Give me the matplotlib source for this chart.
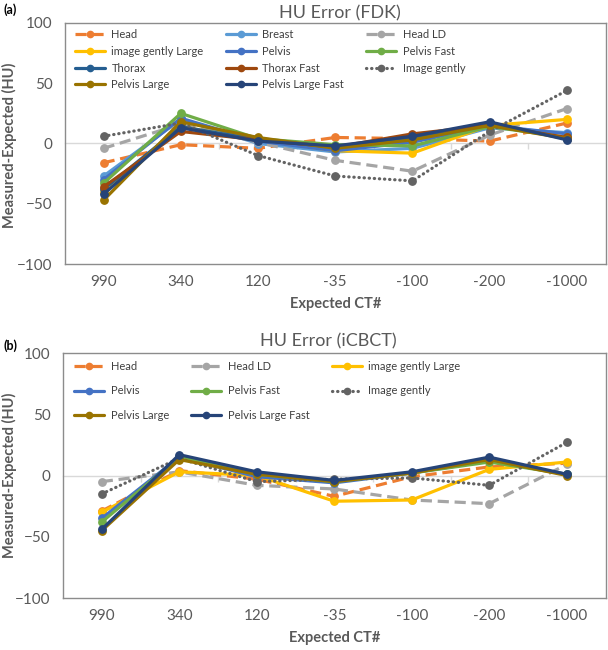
import matplotlib
matplotlib.use("Agg")
import matplotlib.pyplot as plt

plt.rcParams['font.family'] = ['Lato', 'DejaVu Sans']

ct_labels = ["990", "340", "120", "-35", "-100", "-200", "-1000"]

# FDK: measured - expected (HU)
fdk_head = [-16, -1, -4, 5, 4, 2, 17]
fdk_breast = [-27, 20, 0, -7, -4, 13, 9]
fdk_head_ld = [-4, 16, 1, -14, -23, 7, 29]
fdk_ig_large = [-40, 14, 3, -6, -8, 15, 20]
fdk_pelvis = [-30, 21, 2, -6, 1, 15, 8]
fdk_pelvis_fast = [-33, 25, 4, -1, -2, 14, 5]
fdk_thorax = [-38, 14, 3, -3, 4, 17, 4]
fdk_thorax_fast = [-36, 10, 3, -3, 8, 15, 5]
fdk_image_gently = [6, 17, -10, -27, -31, 10, 44]
fdk_pelvis_large = [-47, 18, 5, -4, 3, 15, 4]
fdk_pelvis_large_fast = [-42, 13, 2, -2, 6, 18, 3]

# iCBCT
icbct_head = [-29, 4, -3, -17, -1, 7, 10]
icbct_head_ld = [-5, 3, -8, -11, -20, -23, 9]
icbct_ig_large = [-30, 3, 0, -21, -20, 5, 11]
icbct_pelvis = [-35, 15, -1, -6, 2, 12, 1]
icbct_pelvis_fast = [-38, 15, 1, -5, 2, 11, 1]
icbct_image_gently = [-15, 14, -5, -3, -2, -8, 27]
icbct_pelvis_large = [-45, 13, 1, -5, 2, 13, 0]
icbct_pelvis_large_fast = [-44, 17, 3, -4, 3, 15, 1]

DASH = (0, (3.5, 1.8))
DOT = (0, (0.1, 1.5))
styles = {
    "Head": ("#ED7D31", DASH),
    "Breast": ("#5B9BD5", "-"),
    "Head LD": ("#A5A5A5", DASH),
    "image gently Large": ("#FFC000", "-"),
    "Pelvis": ("#4472C4", "-"),
    "Pelvis Fast": ("#70AD47", "-"),
    "Thorax": ("#255E91", "-"),
    "Thorax Fast": ("#9E480E", "-"),
    "Image gently": ("#636363", DOT),
    "Pelvis Large": ("#997300", "-"),
    "Pelvis Large Fast": ("#264478", "-"),
}

fdk_series = [
    ("Head", fdk_head), ("Breast", fdk_breast), ("Head LD", fdk_head_ld),
    ("image gently Large", fdk_ig_large), ("Pelvis", fdk_pelvis),
    ("Pelvis Fast", fdk_pelvis_fast), ("Thorax", fdk_thorax),
    ("Thorax Fast", fdk_thorax_fast), ("Image gently", fdk_image_gently),
    ("Pelvis Large", fdk_pelvis_large), ("Pelvis Large Fast", fdk_pelvis_large_fast),
]
icbct_series = [
    ("Head", icbct_head), ("Head LD", icbct_head_ld),
    ("image gently Large", icbct_ig_large), ("Pelvis", icbct_pelvis),
    ("Pelvis Fast", icbct_pelvis_fast), ("Image gently", icbct_image_gently),
    ("Pelvis Large", icbct_pelvis_large), ("Pelvis Large Fast", icbct_pelvis_large_fast),
]

TEXT = "#595959"
W, H = 608, 650


def draw_panel(ax, series, row_gap, anchor):
    x = list(range(len(ct_labels)))
    handles = []
    for name, values in series:
        color, ls = styles[name]
        line, = ax.plot(x, values, color=color, linestyle=ls, lw=2.3,
                        marker='o', ms=5.3, label=name,
                        solid_joinstyle='round', solid_capstyle='round',
                        dash_capstyle='round' if ls is DOT else 'butt')
        handles.append(line)

    ax.set_xlim(-0.5, len(ct_labels) - 0.5)
    ax.set_ylim(-100, 100)
    ax.set_yticks([-100, -50, 0, 50, 100])
    ax.set_xticks(x)
    ax.set_xticklabels(ct_labels)
    ax.tick_params(length=0, labelsize=11, labelcolor=TEXT)
    ax.tick_params(axis='y', pad=9)
    ax.tick_params(axis='x', pad=8)
    for sp in ax.spines.values():
        sp.set_color('#8c8c8c')
        sp.set_linewidth(1)

    # category axis crossing at zero (Excel style)
    zero_axis = ax.secondary_xaxis(0.5)
    zero_axis.set_alignment('bottom')
    zero_axis.set_xticks([i + 0.5 for i in range(len(ct_labels) - 1)])
    zero_axis.tick_params(length=4, width=1, color='#d9d9d9', direction='out',
                          labelbottom=False)
    zero_axis.spines['bottom'].set_color('#d9d9d9')
    zero_axis.spines['bottom'].set_linewidth(1)

    # Excel fills legend rows first, matplotlib fills columns
    n = len(handles)
    order = [i for c in range(3) for i in range(c, n, 3)]
    ax.legend([handles[i] for i in order], [handles[i].get_label() for i in order],
              ncol=3, loc='upper left', bbox_to_anchor=anchor, frameon=False,
              fontsize=8, handlelength=2.7, handletextpad=0.6, markerscale=0.85,
              columnspacing=2.0, labelspacing=row_gap, borderpad=0,
              borderaxespad=0, labelcolor='#404040')

    ax.set_xlabel("Expected CT#", fontsize=10.5, fontweight='bold', color=TEXT, labelpad=6)


fig = plt.figure(figsize=(W / 100, H / 100), dpi=100)

ax1 = fig.add_axes([65 / W, 1 - 264 / H, 540.5 / W, 241 / H])
draw_panel(ax1, fdk_series, 0.52, (0.018, 0.975))
ax2 = fig.add_axes([63 / W, 1 - 598 / H, 542.5 / W, 245 / H])
draw_panel(ax2, icbct_series, 1.22, (0.02, 0.968))

fig.text(340 / W, 1 - 13 / H, "HU Error (FDK)", ha='center', va='center',
         fontsize=13, color=TEXT)
fig.text(328 / W, 1 - 341 / H, "HU Error (iCBCT)", ha='center', va='center',
         fontsize=13, color=TEXT)
fig.text(3 / W, 1 - 10 / H, "(a)", ha='left', va='center', fontsize=9, fontweight='bold')
fig.text(3 / W, 1 - 346 / H, "(b)", ha='left', va='center', fontsize=9, fontweight='bold')
fig.text(9 / W, 1 - 145 / H, "Measured-Expected (HU)", rotation=90, ha='center',
         va='center', fontsize=10.5, fontweight='bold', color=TEXT)
fig.text(9 / W, 1 - 475 / H, "Measured-Expected (HU)", rotation=90, ha='center',
         va='center', fontsize=10.5, fontweight='bold', color=TEXT)

fig.savefig("out.png", dpi=100)
